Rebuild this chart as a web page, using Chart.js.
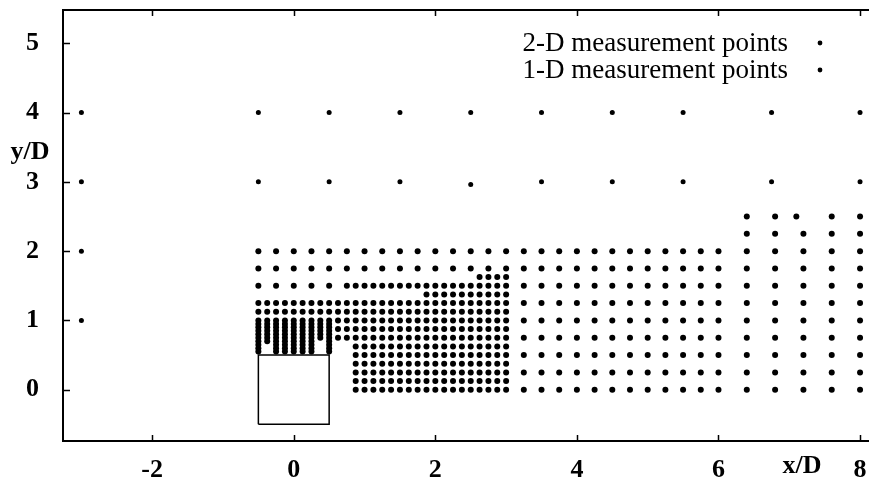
<!DOCTYPE html>
<html>
<head>
<meta charset="utf-8">
<script src="https://cdn.jsdelivr.net/npm/chart.js@4.4.1/dist/chart.umd.min.js"></script>
<style>
  html, body { margin: 0; padding: 0; background: #fff; }
  #wrap { width: 869px; height: 480px; }
</style>
</head>
<body>
<div id="wrap"><canvas id="chart"></canvas></div>
<script>
// axis ticks
const xTicks = [-2, 0, 2, 4, 6, 8];
const yTicks = [0, 1, 2, 3, 4, 5];

// grid coordinates of the 2-D measurement points (x/D, y/D)
const xCoarse = [-0.5, -0.25, 0, 0.25, 0.5, 0.75, 1, 1.25, 1.5, 1.75, 2, 2.25, 2.5, 2.75, 3,
                 3.25, 3.5, 3.75, 4, 4.25, 4.5, 4.75, 5, 5.25, 5.5, 5.75, 6];
const xFine = [-0.5, -0.375, -0.25, -0.125, 0, 0.125, 0.25, 0.375, 0.5, 0.625, 0.75, 0.875,
               1, 1.125, 1.25, 1.375, 1.5, 1.625, 1.75, 1.875, 2, 2.125, 2.25, 2.375, 2.5,
               2.625, 2.75, 2.875, 3];
const xRight = [6.4, 6.8, 7.2, 7.6, 8];
const xRightTop = [6.4, 6.8, 7.1, 7.6, 8];
const yRight = [2.25, 2, 1.75, 1.5, 1.25, 1, 0.75, 0.5, 0.25, 0];

// near-body columns, densely sampled down to the cylinder top
const denseX = [-0.5, -0.375, -0.25, -0.125, 0, 0.125, 0.25, 0.375, 0.5];
const denseBottom = [0.55, 0.68, 0.55, 0.55, 0.53, 0.53, 0.55, 0.72, 0.55];
const denseY = [1.0, 0.95, 0.9, 0.85, 0.8, 0.75, 0.7, 0.65, 0.6, 0.55];

// 1-D measurement points
const points1D = [
  [-3, 1], [-3, 2], [-3, 3], [-3, 4],
  [-0.5, 3], [0.5, 3], [1.5, 3], [2.5, 2.96], [3.5, 3], [4.5, 3], [5.5, 3], [6.75, 3], [8, 3],
  [-0.5, 4], [0.5, 4], [1.5, 4], [2.5, 4], [3.5, 4], [4.5, 4], [5.5, 4], [6.75, 4], [8, 4]
];

// cylinder outline
const cylinderX = [-0.5, 0.5, 0.5, -0.5, -0.5];
const cylinderY = [-0.5, -0.5, 0.5, 0.5, -0.5];

const seriesLabels = ['2-D measurement points', '1-D measurement points'];
const axisTitles = { x: 'x/D', y: 'y/D' };

const span = (xs, lo, hi) => xs.filter(v => v >= lo && v <= hi);

const rows2D = [
  [2, xCoarse], [1.75, xCoarse],
  [1.625, span(xFine, 2.625, 3)],
  [1.5, span(xCoarse, -0.5, 0.5).concat(span(xFine, 0.75, 3), span(xCoarse, 3.25, 6))],
  [1.375, span(xFine, 1.875, 3)],
  [1.25, xFine.concat(span(xCoarse, 3.25, 6))],
  [1.125, xFine],
  [1, span(xFine, 0.625, 3).concat(span(xCoarse, 3.25, 6))],
  [0.875, span(xFine, 0.625, 3)],
  [0.75, span(xFine, 0.625, 3).concat(span(xCoarse, 3.25, 6))],
  [0.625, span(xFine, 0.875, 3)],
  [0.5, span(xFine, 0.875, 3).concat(span(xCoarse, 3.25, 6))],
  [0.375, span(xFine, 0.875, 3)],
  [0.25, span(xFine, 0.875, 3).concat(span(xCoarse, 3.25, 6))],
  [0.125, span(xFine, 0.875, 3)],
  [0, span(xFine, 0.875, 3).concat(span(xCoarse, 3.25, 6))],
  [2.5, xRightTop]
];

const data2D = [];
rows2D.forEach(([y, xs]) => xs.forEach(x => data2D.push({x, y})));
yRight.forEach(y => xRight.forEach(x => data2D.push({x, y})));
denseX.forEach((x, i) => denseY.filter(y => y >= denseBottom[i]).forEach(y => data2D.push({x, y})));

const data1D = points1D.map(([x, y]) => ({x, y}));
const cylinder = cylinderX.map((x, i) => ({x, y: cylinderY[i]}));

const serif = '"Liberation Serif", "Times New Roman", serif';

const framePlugin = {
  id: 'frame',
  afterDraw(chart) {
    const {ctx, chartArea: a, scales: {x, y}} = chart;
    ctx.save();
    ctx.strokeStyle = '#000';
    ctx.lineWidth = 2;
    ctx.beginPath();
    ctx.moveTo(a.left - 1, a.top);
    ctx.lineTo(chart.width, a.top);
    ctx.stroke();

    // inward ticks
    ctx.lineWidth = 1.5;
    ctx.beginPath();
    xTicks.forEach(v => {
      const px = Math.round(x.getPixelForValue(v)) + 0.5;
      ctx.moveTo(px, a.bottom); ctx.lineTo(px, a.bottom - 6);
      ctx.moveTo(px, a.top); ctx.lineTo(px, a.top + 6);
    });
    yTicks.forEach(v => {
      const py = Math.round(y.getPixelForValue(v)) + 0.5;
      ctx.moveTo(a.left, py); ctx.lineTo(a.left + 7, py);
    });
    ctx.stroke();

    // bottom axis line runs on to the edge of the picture
    ctx.lineWidth = 2;
    ctx.beginPath();
    ctx.moveTo(a.right, a.bottom);
    ctx.lineTo(chart.width, a.bottom);
    ctx.stroke();

    // axis titles
    ctx.fillStyle = '#000';
    ctx.font = 'bold 26px ' + serif;
    ctx.textAlign = 'center';
    ctx.textBaseline = 'middle';
    ctx.fillText(axisTitles.y, 30, 152);
    ctx.fillText(axisTitles.x, 802, 466);

    // legend: text, then the symbol on the right
    ctx.font = '27px ' + serif;
    ctx.textAlign = 'right';
    chart.data.datasets.slice(0, 2).forEach((ds, i) => {
      const ty = 43 + i * 27;
      ctx.fillText(ds.label, 788, ty + 1);
      ctx.beginPath();
      ctx.arc(820, ty, 2.4, 0, Math.PI * 2);
      ctx.fill();
    });
    ctx.restore();
  }
};

new Chart(document.getElementById('chart'), {
  type: 'scatter',
  data: {
    datasets: [
      { label: seriesLabels[0], data: data2D, pointRadius: 3, pointBackgroundColor: '#000', pointBorderWidth: 0 },
      { label: seriesLabels[1], data: data1D, pointRadius: 2.5, pointBackgroundColor: '#000', pointBorderWidth: 0 },
      { label: 'cylinder', data: cylinder, showLine: true, borderColor: '#000', borderWidth: 1.5, pointRadius: 0, fill: false }
    ]
  },
  options: {
    responsive: true,
    maintainAspectRatio: false,
    animation: false,
    layout: { padding: { top: 10, right: 0, left: 0, bottom: 0 } },
    plugins: { legend: { display: false }, tooltip: { enabled: false } },
    scales: {
      x: {
        type: 'linear', min: -3.26, max: 8.07,
        afterBuildTicks: s => { s.ticks = xTicks.map(v => ({value: v})); },
        afterFit: s => { s.height = 39; s.paddingLeft = 0; s.paddingRight = 0; },
        grid: { display: false },
        border: { display: true, color: '#000', width: 2 },
        ticks: { color: '#000', font: { family: serif, size: 26, weight: 'bold' }, padding: 6, maxRotation: 0 }
      },
      y: {
        type: 'linear', min: -0.74, max: 5.48,
        afterBuildTicks: s => { s.ticks = yTicks.map(v => ({value: v})); },
        afterFit: s => { s.width = 63; s.paddingTop = 0; s.paddingBottom = 0; },
        grid: { display: false },
        border: { display: true, color: '#000', width: 2 },
        ticks: { color: '#000', font: { family: serif, size: 26, weight: 'bold' }, padding: 16 }
      }
    }
  },
  plugins: [framePlugin]
});
</script>
</body>
</html>
